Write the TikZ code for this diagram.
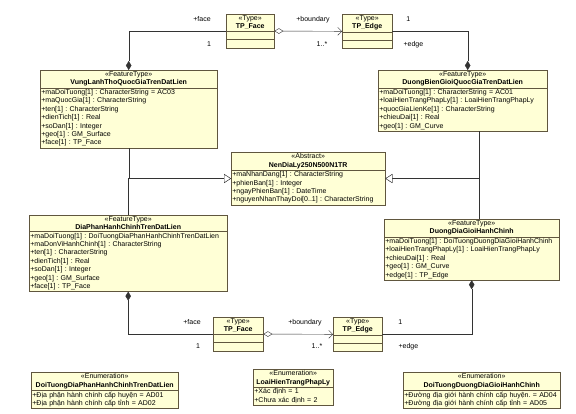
\documentclass[tikz,border=0pt]{standalone}
\usepackage{fontspec}
\setmainfont{Liberation Sans}
\usetikzlibrary{shapes.multipart,arrows.meta,positioning}
\definecolor{umlfill}{RGB}{255,255,214}
\definecolor{umlline}{RGB}{96,86,62}
\frenchspacing
\begin{document}
\begin{tikzpicture}
  [x=1pt,y=-1pt,
   cls/.style ={rectangle split,rectangle split parts=2,draw=umlline,fill=umlfill,
     anchor=north west,inner xsep=1.2pt,inner ysep=1.3pt,text width=#1,
     font=\fontsize{7}{8.4}\selectfont},
   typ/.style ={cls=#1,rectangle split parts=3,rectangle split empty part height=3pt},
   lbl/.style ={font=\fontsize{7}{8}\selectfont,inner sep=0pt},
   comp/.style ={draw=black!80,{Diamond[length=9pt,width=5.5pt]}-},
   aggr/.style ={draw=black!80,{Diamond[open,length=9pt,width=5.5pt,fill=white]}-{Straight Barb[length=4pt,width=8pt]}},
   gen/.style ={draw=black!80,-{Triangle[open,length=7pt,width=9pt,fill=white]}}]
  \useasboundingbox (0,0) rectangle (576,413);

  % topology types
  \node[typ=45.6pt] (face1) at (226,14) {\centering «Type»\par\textbf{TP\_Face}\par};
  \node[typ=47.6pt] (edge1) at (342,14) {\centering «Type»\par\textbf{TP\_Edge}\par};
  \node[typ=47.6pt] (face2) at (213,317) {\centering «Type»\par\textbf{TP\_Face}\par};
  \node[typ=46.6pt] (edge2) at (333,317) {\centering «Type»\par\textbf{TP\_Edge}\par};

  % feature types
  \node[cls=174.6pt] (vung) at (40,70) {\centering «FeatureType»\par\textbf{VungLanhThoQuocGiaTrenDatLien}\par
    \nodepart{two}\raggedright +maDoiTuong[1] : CharacterString = AC03\\
    +maQuocGia[1] : CharacterString\\
    +ten[1] : CharacterString\\
    +dienTich[1] : Real\\
    +soDan[1] : Integer\\
    +geo[1] : GM\_Surface\\
    +face[1] : TP\_Face};
  \node[cls=166.6pt] (bien) at (378,70) {\centering «FeatureType»\par\textbf{DuongBienGioiQuocGiaTrenDatLien}\par
    \nodepart{two}\raggedright +maDoiTuong[1] : CharacterString = AC01\\
    +loaiHienTrangPhapLy[1] : LoaiHienTrangPhapLy\\
    +quocGiaLienKe[1] : CharacterString\\
    +chieuDai[1] : Real\\
    +geo[1] : GM\_Curve};
  \node[cls=151.6pt] (nen) at (231,152) {\centering «Abstract»\par\textbf{NenDiaLy250N500N1TR}\par
    \nodepart{two}\raggedright +maNhanDang[1] : CharacterString\\
    +phienBan[1] : Integer\\
    +ngayPhienBan[1] : DateTime\\
    +nguyenNhanThayDoi[0..1] : CharacterString};
  \node[cls=195.6pt] (dia) at (29,215) {\centering «FeatureType»\par\textbf{DiaPhanHanhChinhTrenDatLien}\par
    \nodepart{two}\raggedright +maDoiTuong[1] : DoiTuongDiaPhanHanhChinhTrenDatLien\\
    +maDonViHanhChinh[1] : CharacterString\\
    +ten[1] : CharacterString\\
    +dienTich[1] : Real\\
    +soDan[1] : Integer\\
    +geo[1] : GM\_Surface\\
    +face[1] : TP\_Face};
  \node[cls=172.6pt] (duong) at (384,219) {\centering «FeatureType»\par\textbf{DuongDiaGioiHanhChinh}\par
    \nodepart{two}\raggedright +maDoiTuong[1] : DoiTuongDuongDiaGioiHanhChinh\\
    +loaiHienTrangPhapLy[1] : LoaiHienTrangPhapLy\\
    +chieuDai[1] : Real\\
    +geo[1] : GM\_Curve\\
    +edge[1] : TP\_Edge};

  % enumerations
  \node[cls=144.6pt] (enum1) at (31,372) {\centering «Enumeration»\par\textbf{DoiTuongDiaPhanHanhChinhTrenDatLien}\par
    \nodepart{two}\raggedright +Địa phận hành chính cấp huyện = AD01\\
    +Địa phận hành chính cấp tỉnh = AD02};
  \node[cls=77.6pt] (enum2) at (253,369) {\centering «Enumeration»\par\textbf{LoaiHienTrangPhapLy}\par
    \nodepart{two}\raggedright +Xác định = 1\\
    +Chưa xác định = 2};
  \node[cls=154.6pt] (enum3) at (403,372) {\centering «Enumeration»\par\textbf{DoiTuongDuongDiaGioiHanhChinh}\par
    \nodepart{two}\raggedright +Đường địa giới hành chính cấp huyện. = AD04\\
    +Đường địa giới hành chính cấp tỉnh = AD05};

  % associations
  \draw[comp] (vung.north) |- (face1.west)
    node[lbl,pos=1,xshift=-24,yshift=12]{+face}
    node[lbl,pos=1,xshift=-17,yshift=-13]{1};
  \draw[aggr] (face1.east) -- (edge1.west)
    node[lbl,pos=1,xshift=-29,yshift=12]{+boundary}
    node[lbl,pos=1,xshift=-20,yshift=-13]{1..*};
  \draw[comp] ([xshift=5]bien.north) |- (edge1.east)
    node[lbl,pos=1,xshift=16,yshift=12]{1}
    node[lbl,pos=1,xshift=21,yshift=-13]{+edge};
  \draw[comp] (dia.south) |- (face2.west)
    node[lbl,pos=1,xshift=-21,yshift=12]{+face}
    node[lbl,pos=1,xshift=-15,yshift=-12]{1};
  \draw[aggr] (face2.east) -- (edge2.west)
    node[lbl,pos=1,xshift=-28,yshift=12]{+boundary}
    node[lbl,pos=1,xshift=-16,yshift=-12]{1..*};
  \draw[comp] (duong.south) |- (edge2.east)
    node[lbl,pos=1,xshift=18,yshift=12]{1}
    node[lbl,pos=1,xshift=26,yshift=-12]{+edge};

  % generalisations
  \draw[gen] (vung.south) |- (nen.west);
  \draw[gen] (dia.north) |- (nen.west);
  \draw[gen] ([xshift=16]bien.south) |- (nen.east);
  \draw[gen] ([xshift=7.5]duong.north) |- (nen.east);
\end{tikzpicture}
\end{document}
